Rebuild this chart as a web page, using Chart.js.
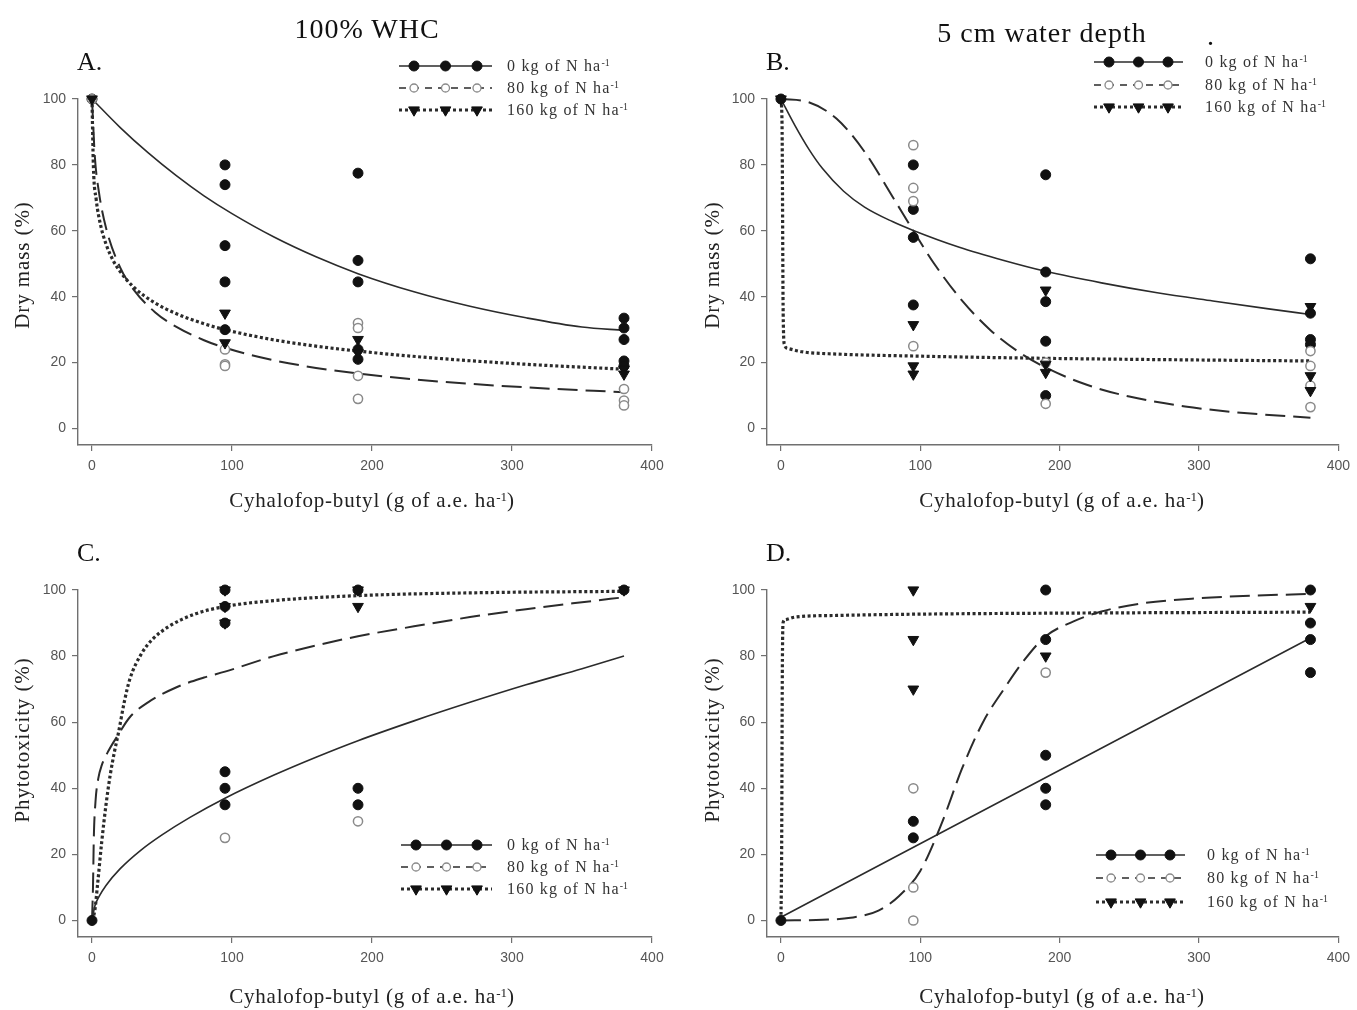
<!DOCTYPE html>
<html lang="en">
<head>
<meta charset="utf-8">
<title>Cyhalofop-butyl dose response</title>
<script src="https://cdn.jsdelivr.net/npm/chart.js@4.4.1/dist/chart.umd.min.js"></script>
<style>
    html, body { margin: 0; padding: 0; background: #fff; }
    body { position: relative; width: 1357px; height: 1010px; overflow: hidden;
           font-family: 'Liberation Serif', 'Times New Roman', serif; color: #111; }
    .box { position: absolute; }
    .box canvas { display: block; }
    .t { position: absolute; white-space: nowrap; line-height: 1; }
    .head { font-size: 28px; letter-spacing: 1px; transform: translateX(-50%); }
    .letter { font-size: 26px; }
    .xtitle { font-size: 21px; letter-spacing: .8px; transform: translateX(-50%); color: #222; }
    .ytitle { font-size: 21px; letter-spacing: .9px; transform: translate(-50%, -50%) rotate(-90deg); color: #222; }
    .leg { font-size: 16px; letter-spacing: 1.2px; transform: translateY(-50%); color: #333; }
    sup { font-size: 62%; line-height: 0; vertical-align: .5em; letter-spacing: 0; }
</style>
</head>
<body>

<div class="box" style="left:0;top:0"><canvas id="chartA" width="680" height="520"></canvas></div>
<div class="box" style="left:689px;top:0"><canvas id="chartB" width="668" height="520"></canvas></div>
<div class="box" style="left:0;top:520px"><canvas id="chartC" width="680" height="490"></canvas></div>
<div class="box" style="left:689px;top:520px"><canvas id="chartD" width="668" height="490"></canvas></div>

<div class="t head" style="left:367px;top:15px">100% WHC</div>
<div class="t head" style="left:1042px;top:19px">5 cm water depth</div>
<div class="t head" style="left:1211px;top:22px">.</div>

<div class="t letter" style="left:77px;top:49px">A.</div>
<div class="t letter" style="left:766px;top:49px">B.</div>
<div class="t letter" style="left:77px;top:540px">C.</div>
<div class="t letter" style="left:766px;top:540px">D.</div>

<div class="t xtitle" style="left:372px;top:490px">Cyhalofop-butyl (g of a.e. ha<sup>-1</sup>)</div>
<div class="t xtitle" style="left:1062px;top:490px">Cyhalofop-butyl (g of a.e. ha<sup>-1</sup>)</div>
<div class="t xtitle" style="left:372px;top:986px">Cyhalofop-butyl (g of a.e. ha<sup>-1</sup>)</div>
<div class="t xtitle" style="left:1062px;top:986px">Cyhalofop-butyl (g of a.e. ha<sup>-1</sup>)</div>

<div class="t ytitle" style="left:22px;top:265px">Dry mass (%)</div>
<div class="t ytitle" style="left:712px;top:265px">Dry mass (%)</div>
<div class="t ytitle" style="left:22px;top:740px">Phytotoxicity (%)</div>
<div class="t ytitle" style="left:712px;top:740px">Phytotoxicity (%)</div>

<div class="t leg" style="left:507px;top:66px">0 kg of N ha<sup>-1</sup></div>
<div class="t leg" style="left:507px;top:88px">80 kg of N ha<sup>-1</sup></div>
<div class="t leg" style="left:507px;top:110px">160 kg of N ha<sup>-1</sup></div>
<div class="t leg" style="left:1205px;top:62px">0 kg of N ha<sup>-1</sup></div>
<div class="t leg" style="left:1205px;top:85px">80 kg of N ha<sup>-1</sup></div>
<div class="t leg" style="left:1205px;top:107px">160 kg of N ha<sup>-1</sup></div>
<div class="t leg" style="left:507px;top:845px">0 kg of N ha<sup>-1</sup></div>
<div class="t leg" style="left:507px;top:867px">80 kg of N ha<sup>-1</sup></div>
<div class="t leg" style="left:507px;top:889px">160 kg of N ha<sup>-1</sup></div>
<div class="t leg" style="left:1207px;top:855px">0 kg of N ha<sup>-1</sup></div>
<div class="t leg" style="left:1207px;top:878px">80 kg of N ha<sup>-1</sup></div>
<div class="t leg" style="left:1207px;top:902px">160 kg of N ha<sup>-1</sup></div>

<script>
(function() {
    'use strict';

    // ── Axis ticks ────────────────────────────────────────────────────────────
    var xTicks = [0, 100, 200, 300, 400];
    var yTicks = [0, 20, 40, 60, 80, 100];

    // ── A. Dry mass, 100% WHC ─────────────────────────────────────────────────
    // observed [dose, %]
    var aObs0   = [[0, 100], [95, 80], [95, 74], [95, 55.5], [95, 44.5], [95, 30], [190, 77.5], [190, 51], [190, 44.5],
                   [190, 24], [190, 21], [380, 33.5], [380, 30.5], [380, 27], [380, 20.5], [380, 19]];
    var aObs80  = [[0, 100], [95, 24], [95, 19.5], [95, 19], [190, 32], [190, 30.5], [190, 16], [190, 9],
                   [380, 12], [380, 8.5], [380, 7]];
    var aObs160 = [[0, 100], [95, 35], [95, 26], [190, 27], [190, 23], [380, 18], [380, 16.5]];
    // fitted curves
    var aFit0X   = [0, 20, 40, 60, 80, 100, 130, 160, 190, 230, 270, 310, 350, 380];
    var aFit0Y   = [100, 91.4, 83.7, 76.8, 70.6, 65.2, 58.1, 52.1, 47, 41.5, 37.1, 33.6, 30.8, 29.8];
    var aFit80X  = [0, 2, 5, 10, 20, 30, 45, 60, 80, 95, 130, 160, 190, 250, 310, 380];
    var aFit80Y  = [100, 82.7, 71.6, 60.9, 49, 42, 35.3, 30.9, 26.8, 24.5, 20.7, 18.4, 16.7, 14.2, 12.5, 11];
    var aFit160X = [0, 1, 3, 6, 10, 15, 20, 30, 45, 60, 80, 95, 130, 160, 190, 250, 310, 380];
    var aFit160Y = [100, 79.5, 69.5, 62, 56, 51.1, 47.7, 42.8, 38.1, 34.9, 31.8, 30, 26.9, 25, 23.5, 21.2, 19.5, 18];

    // ── B. Dry mass, 5 cm water depth ─────────────────────────────────────────
    var bObs0   = [[0, 100], [95, 80], [95, 66.5], [95, 58], [95, 37.5], [190, 77], [190, 47.5], [190, 38.5],
                   [190, 26.5], [190, 10], [380, 51.5], [380, 35], [380, 27], [380, 25.5]];
    var bObs80  = [[95, 86], [95, 73], [95, 69], [95, 25], [190, 20], [190, 7.5], [380, 23.5], [380, 19],
                   [380, 13], [380, 6.5]];
    var bObs160 = [[0, 100], [95, 31.5], [95, 19], [95, 16.5], [190, 42], [190, 19.5], [190, 17], [380, 37],
                   [380, 16], [380, 11.5]];
    var bFit0X   = [0, 10, 20, 30, 45, 60, 80, 95, 128, 160, 190, 230, 270, 310, 350, 380];
    var bFit0Y   = [100, 92, 84.8, 78.8, 72, 67.2, 62.8, 60.1, 55, 51, 47.7, 44.2, 41.2, 38.7, 36.3, 34.6];
    var bFit80X  = [0, 20, 40, 60, 80, 95, 110, 130, 150, 170, 190, 220, 250, 290, 330, 380];
    var bFit80Y  = [100, 99, 94, 84, 70.4, 60, 50, 38.8, 30, 23.4, 18.5, 13.2, 9.7, 6.7, 4.8, 3.3];
    var bFit160X = [0, 0.8, 1.6, 2.5, 5, 15, 40, 95, 190, 300, 380];
    var bFit160Y = [100, 92, 35, 25.5, 24.3, 23.3, 22.6, 22, 21.3, 20.8, 20.5];

    // ── C. Phytotoxicity, 100% WHC ────────────────────────────────────────────
    var cObs0   = [[0, 0], [95, 100], [95, 95], [95, 90], [95, 45], [95, 40], [95, 35], [190, 100], [190, 40],
                   [190, 35], [380, 100]];
    var cObs80  = [[95, 25], [190, 30]];
    var cObs160 = [[95, 100], [95, 95], [95, 90], [190, 100], [190, 95], [380, 100]];
    var cFit0X   = [0, 2, 5, 10, 20, 35, 50, 70, 95, 130, 160, 190, 230, 270, 310, 350, 380];
    var cFit0Y   = [0, 4.3, 7.2, 10.6, 15.6, 21.3, 25.9, 31.2, 37, 44, 49.4, 54.4, 60.4, 66, 71.3, 76.2, 80];
    var cFit80X  = [0, 0.7, 1.3, 2.5, 4.5, 7, 12, 18, 27, 40, 60, 80, 95, 130, 160, 190, 230, 270, 310, 350, 380];
    var cFit80Y  = [0, 10, 25, 36, 43, 47, 51.5, 55.7, 61.5, 66, 70.5, 73.5, 75.3, 80, 83.2, 86, 89, 91.8, 94.2, 96.3, 97.8];
    var cFit160X = [0, 2, 4, 7, 10, 13, 16, 19, 23, 27, 35, 43, 55, 74, 95, 130, 190, 280, 380];
    var cFit160Y = [0, 3, 11, 24, 35, 44, 51, 57, 66, 73, 80.5, 85, 89, 92.8, 95, 96.8, 98.3, 99.2, 99.6];

    // ── D. Phytotoxicity, 5 cm water depth ────────────────────────────────────
    var dObs0   = [[0, 0], [95, 30], [95, 25], [190, 100], [190, 85], [190, 50], [190, 40], [190, 35],
                   [380, 100], [380, 90], [380, 85], [380, 75]];
    var dObs80  = [[95, 40], [95, 10], [95, 0], [190, 75]];
    var dObs160 = [[95, 100], [95, 85], [95, 70], [190, 80], [380, 95]];
    var dFit0X   = [0, 380];
    var dFit0Y   = [1, 85.5];
    var dFit80X  = [0, 30, 50, 70, 85, 100, 115, 130, 145, 160, 175, 190, 210, 230, 260, 300, 340, 380];
    var dFit80Y  = [0, 0.2, 0.8, 3, 7.5, 15, 29, 46, 60, 70, 79, 86, 90.5, 93.5, 96, 97.5, 98.3, 98.8];
    var dFit160X = [0, 0.5, 1, 1.5, 3, 10, 40, 100, 200, 380];
    var dFit160Y = [0, 20, 75, 90, 91, 91.8, 92.3, 92.7, 93, 93.3];

    // ── Styles ────────────────────────────────────────────────────────────────
    var INK  = '#2b2b2b';
    var AXIS = '#707070';
    var MARK = {
        filled: { style: 'circle',   radius: 5,   bg: '#111', border: '#111',    bw: 1,   rotation: 0 },
        open:   { style: 'circle',   radius: 4.6, bg: '#fff', border: '#8a8a8a', bw: 1.5, rotation: 0 },
        tri:    { style: 'triangle', radius: 6.2, bg: '#111', border: '#111',    bw: 1,   rotation: 180 }
    };
    var LINE = {
        solid:  { dash: [],      width: 1.6 },
        dashed: { dash: [20, 8], width: 2 },
        dotted: { dash: [3, 2.5], width: 3.2 }
    };
    // legend rows: 0, 80, 160 kg N
    var SERIES = [
        { mark: MARK.filled, line: LINE.solid },
        { mark: { style: 'circle', radius: 4, bg: '#fff', border: '#8a8a8a', bw: 1.3, rotation: 0 }, line: { dash: [7, 6], width: 1.6 } },
        { mark: MARK.tri, line: { dash: [3, 3], width: 3 } }
    ];

    // ── Helpers ───────────────────────────────────────────────────────────────
    function pts(pairs) {
        return pairs.map(function(p) { return { x: p[0], y: p[1] }; });
    }
    function curve(xs, ys) {
        return xs.map(function(x, i) { return { x: x, y: ys[i] }; });
    }
    function obsSet(pairs, m, order) {
        return {
            data: pts(pairs), showLine: false, clip: false, order: order,
            pointStyle: m.style, pointRadius: m.radius, pointHoverRadius: m.radius, pointRotation: m.rotation,
            pointBackgroundColor: m.bg, pointBorderColor: m.border, pointBorderWidth: m.bw
        };
    }
    function fitSet(xs, ys, l) {
        return {
            data: curve(xs, ys), showLine: true, clip: false, order: 5, fill: false,
            borderColor: INK, borderWidth: l.width, borderDash: l.dash, borderCapStyle: 'butt',
            pointRadius: 0, pointHoverRadius: 0, cubicInterpolationMode: 'monotone'
        };
    }

    function drawMarker(ctx, m, x, y) {
        ctx.save();
        ctx.fillStyle = m.bg;
        ctx.strokeStyle = m.border;
        ctx.lineWidth = m.bw;
        ctx.setLineDash([]);
        ctx.beginPath();
        if (m.style === 'triangle') {
            var r = m.radius;
            ctx.moveTo(x - r * 0.866, y - r * 0.5);
            ctx.lineTo(x + r * 0.866, y - r * 0.5);
            ctx.lineTo(x, y + r);
            ctx.closePath();
        } else {
            ctx.arc(x, y, m.radius, 0, Math.PI * 2);
        }
        ctx.fill();
        ctx.stroke();
        ctx.restore();
    }

    // ── Legend line samples (text sits in the page) ───────────────────────────
    var legendSamples = {
        id: 'legendSamples',
        afterDraw: function(chart, args, opts) {
            var ctx = chart.ctx;
            opts.rows.forEach(function(y, i) {
                var s = SERIES[i];
                ctx.save();
                ctx.strokeStyle = INK;
                ctx.lineWidth = s.line.width;
                ctx.setLineDash(s.line.dash);
                ctx.beginPath();
                ctx.moveTo(opts.x0, y);
                ctx.lineTo(opts.x1, y);
                ctx.stroke();
                ctx.restore();
                [opts.x0 + 15, (opts.x0 + opts.x1) / 2, opts.x1 - 15].forEach(function(x) {
                    drawMarker(ctx, s.mark, x, y);
                });
            });
        }
    };

    function axis(min, max, values, isX) {
        return {
            type: 'linear', min: min, max: max,
            afterBuildTicks: function(s) { s.ticks = values.map(function(v) { return { value: v }; }); },
            afterFit: function(s) { if (isX) { s.height = 40; } else { s.width = 50; } },
            grid:   { drawOnChartArea: false, drawTicks: true, tickLength: 6, color: AXIS, lineWidth: 1.2 },
            border: { display: true, color: AXIS, width: 1.4 },
            ticks:  { autoSkip: false, maxRotation: 0, padding: isX ? 7 : 6, color: '#555',
                      font: { family: "'Liberation Sans', Arial, sans-serif", size: 14 } }
        };
    }

    function panel(id, pad, legend, sets) {
        return new Chart(document.getElementById(id), {
            type: 'scatter',
            data: { datasets: sets },
            options: {
                responsive: false,
                animation: false,
                layout: { padding: pad },
                plugins: {
                    legend: { display: false },
                    tooltip: { enabled: false },
                    legendSamples: legend
                },
                scales: {
                    x: axis(-10, 400, xTicks, true),
                    y: axis(-5, 100, yTicks, false)
                }
            },
            plugins: [legendSamples]
        });
    }

    function sets(o0, o80, o160, f0x, f0y, f80x, f80y, f160x, f160y) {
        return [
            obsSet(o0, MARK.filled, 2),
            obsSet(o80, MARK.open, 1),
            obsSet(o160, MARK.tri, 0),
            fitSet(f0x, f0y, LINE.solid),
            fitSet(f80x, f80y, LINE.dashed),
            fitSet(f160x, f160y, LINE.dotted)
        ];
    }

    // ── Init ──────────────────────────────────────────────────────────────────
    panel('chartA', { left: 28, right: 28, top: 99, bottom: 35 },
        { x0: 399, x1: 492, rows: [66, 88, 110] },
        sets(aObs0, aObs80, aObs160, aFit0X, aFit0Y, aFit80X, aFit80Y, aFit160X, aFit160Y));

    panel('chartB', { left: 28, right: 17, top: 99, bottom: 35 },
        { x0: 405, x1: 494, rows: [62, 85, 107] },
        sets(bObs0, bObs80, bObs160, bFit0X, bFit0Y, bFit80X, bFit80Y, bFit160X, bFit160Y));

    panel('chartC', { left: 28, right: 28, top: 70, bottom: 33 },
        { x0: 401, x1: 492, rows: [325, 347, 369] },
        sets(cObs0, cObs80, cObs160, cFit0X, cFit0Y, cFit80X, cFit80Y, cFit160X, cFit160Y));

    panel('chartD', { left: 28, right: 17, top: 70, bottom: 33 },
        { x0: 407, x1: 496, rows: [335, 358, 382] },
        sets(dObs0, dObs80, dObs160, dFit0X, dFit0Y, dFit80X, dFit80Y, dFit160X, dFit160Y));

})();
</script>
</body>
</html>
